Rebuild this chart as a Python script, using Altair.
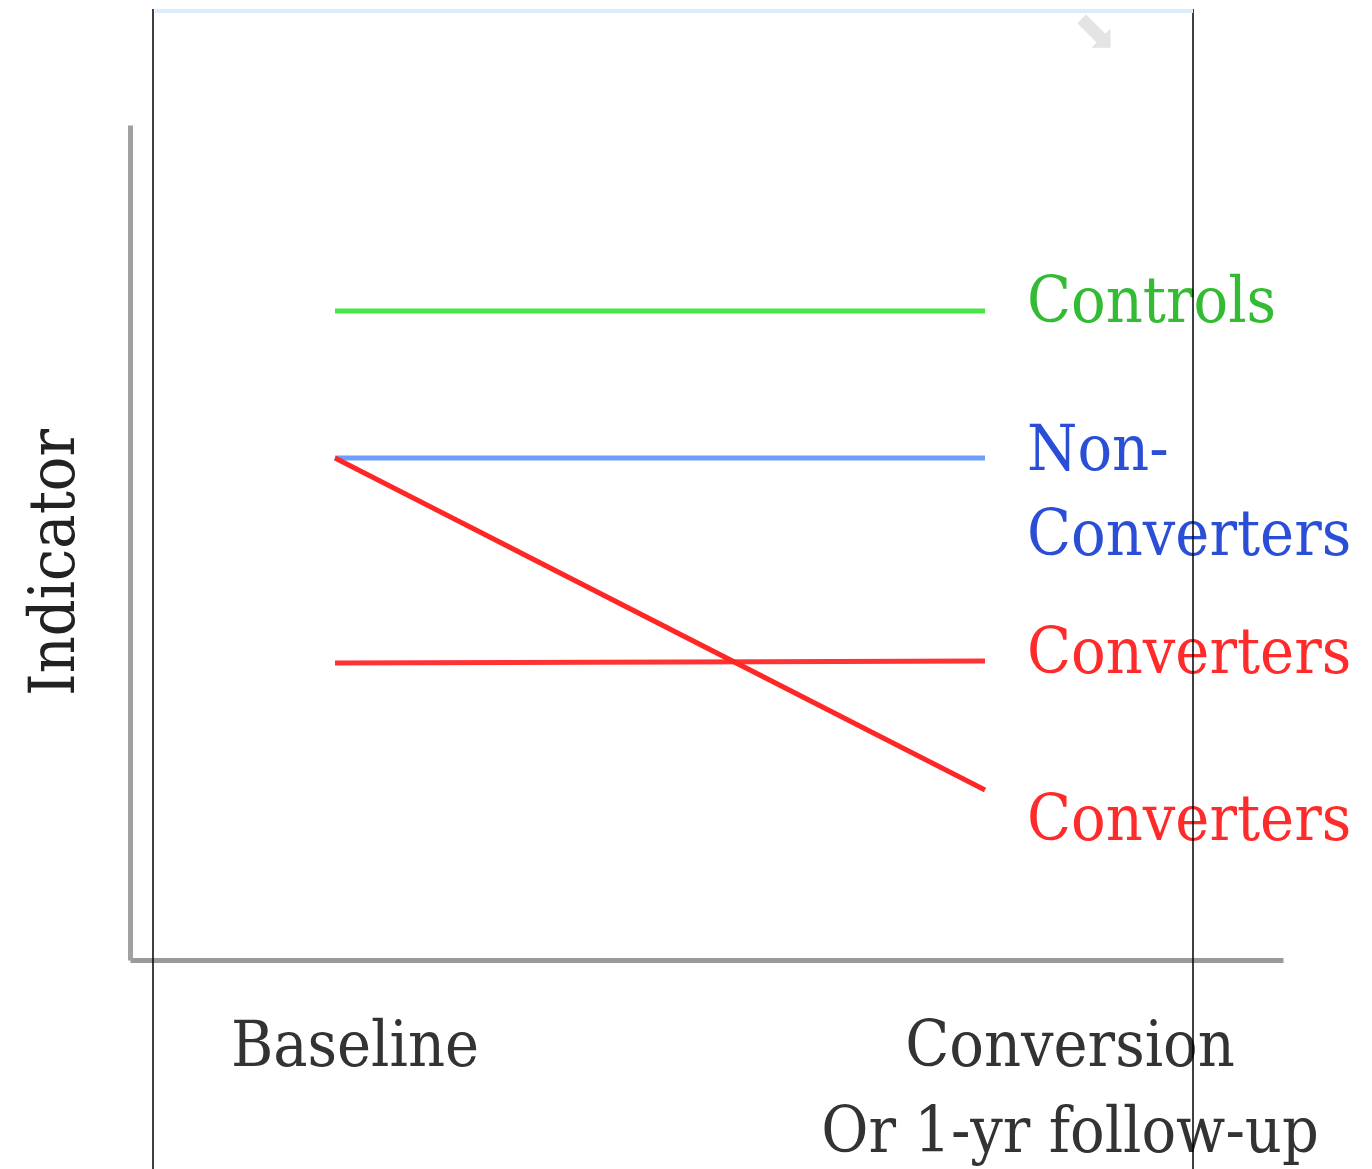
import altair as alt
import pandas as pd

# ---- data ----
time_points = [0, 1]
time_labels = ["Baseline", "Conversion\nOr 1-yr follow-up"]

series_ids = ["controls", "non_converters", "converters_flat", "converters_decline"]
series_labels = ["Controls", "Non-\nConverters", "Converters", "Converters"]
baseline_values = [6.49, 5.02, 2.97, 5.02]
followup_values = [6.49, 5.02, 2.99, 1.70]

# ---- styles ----
line_colors = ["#46e646", "#6f9cff", "#ff3333", "#ff2626"]
text_colors = ["#33bb33", "#2a4fd6", "#ff2a2a", "#ff2a2a"]
label_dy = [11, 12, 12, 50]
time_dx = [20, 85]
FONT = "DejaVu Serif Condensed"
FS = 64

rows = []
for sid, b, f in zip(series_ids, baseline_values, followup_values):
    rows.append({"series": sid, "time": time_points[0], "value": b})
    rows.append({"series": sid, "time": time_points[1], "value": f})
df = pd.DataFrame(rows)

xs = alt.Scale(domain=[-0.31538, 1.45846], nice=False, zero=False)
ys = alt.Scale(domain=[0, 8.35], nice=False, zero=False)

x_axis = alt.Axis(domain=True, domainColor="#9a9a9a", domainWidth=5, labels=False,
                  ticks=False, grid=False, title=None)
y_axis = alt.Axis(domain=True, domainColor="#a0a0a0", domainWidth=5, labels=False,
                  ticks=False, grid=False, title="Indicator", titleFont=FONT,
                  titleFontSize=FS, titleFontWeight="normal", titleColor="#222222",
                  titlePadding=57, titleBaseline="alphabetic", titleY=437)

lines = alt.Chart(df).mark_line(strokeWidth=5, strokeCap="butt").encode(
    x=alt.X("time:Q", scale=xs, axis=x_axis),
    y=alt.Y("value:Q", scale=ys, axis=y_axis),
    color=alt.Color("series:N", scale=alt.Scale(domain=series_ids, range=line_colors), legend=None),
    detail="series:N",
)

layers = [lines]

# series labels at line ends
for sid, lab, col, dy in zip(series_ids, series_labels, text_colors, label_dy):
    d = pd.DataFrame({"time": [time_points[1]],
                      "value": [followup_values[series_ids.index(sid)]],
                      "label": [lab]})
    layers.append(
        alt.Chart(d).mark_text(align="left", baseline="alphabetic", dx=42, dy=dy,
                               font=FONT, fontSize=FS, color=col, lineBreak="\n",
                               lineHeight=85).encode(
            x=alt.X("time:Q", scale=xs), y=alt.Y("value:Q", scale=ys), text="label:N")
    )

# time labels under the x axis
for t, lab, dx in zip(time_points, time_labels, time_dx):
    d = pd.DataFrame({"time": [t], "value": [0.0], "label": [lab]})
    layers.append(
        alt.Chart(d).mark_text(align="center", baseline="alphabetic", dx=dx, dy=106,
                               font=FONT, fontSize=FS, color="#333333", lineBreak="\n",
                               lineHeight=86).encode(
            x=alt.X("time:Q", scale=xs), y=alt.Y("value:Q", scale=ys), text="label:N")
    )

# decorative frame from the screenshot
dummy = pd.DataFrame({"k": [0]})
for px in [23, 1063]:
    layers.append(alt.Chart(dummy).mark_rule(color="black", strokeWidth=1.5).encode(
        x=alt.value(px), y=alt.value(-116), y2=alt.value(1044)))
layers.append(alt.Chart(dummy).mark_rule(color="#dcecfc", strokeWidth=4).encode(
    x=alt.value(25), x2=alt.value(1063), y=alt.value(-114)))
layers.append(alt.Chart(dummy).mark_text(text="⬊", font="DejaVu Sans", fontSize=54,
                                         color="#e4e4e4").encode(
    x=alt.value(965), y=alt.value(-92)))

chart = alt.layer(*layers).properties(
    width=1153, height=835,
    autosize=alt.AutoSizeParams(type="none"),
    padding={"left": 130, "top": 125, "right": 89, "bottom": 209},
    background="white",
).configure_view(stroke=None)

chart.save("out.html", embed_options={"renderer": "svg", "actions": False})
